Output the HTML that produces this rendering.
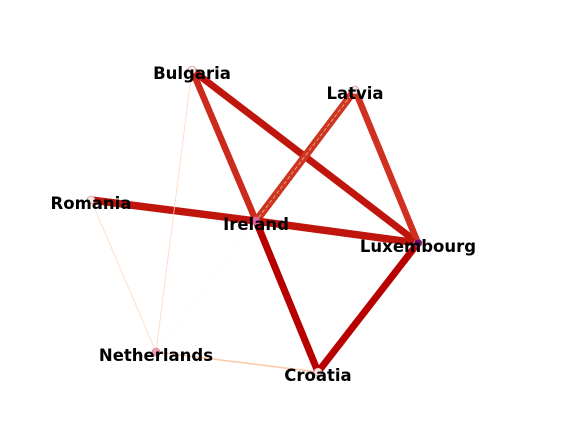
<!DOCTYPE html>
<html><head><meta charset="utf-8"><style>body{margin:0;background:#fff}svg{display:block}</style></head>
<body>
<svg id="chart" width="577" height="441" viewBox="0 0 577 441" xmlns="http://www.w3.org/2000/svg">
<g id="edges"></g>
<g id="nodes"></g>
<g id="labels"></g>
</svg>
<script>
const nodeNames = ["Bulgaria","Latvia","Romania","Ireland","Luxembourg","Netherlands","Croatia"];
const nodeX = [192,355,91,256,418,156,318];
const nodeY = [70,90,200,221,243,352,372];
const nodeFill = ["#fbeaea","#f5e0e0","#f8e8e8","#e060a0","#6a0a70","#f0a0b0","#f8e0e0"];
const edgeFrom = [0,0,1,1,2,3,3,6,0,2,5,5];
const edgeTo   = [3,4,3,4,3,4,6,4,5,5,6,3];
const edgeWidth= [6.5,7,7.5,6.5,7.5,7.5,7,7,0.8,0.8,1.5,0.5];
const edgeColor= ["#cc2a1c","#c0150c","#cc3520","#d03020","#c0150c","#c0150c","#b80000","#b80000","#fdd8c0","#fdd8c0","#fcc8a8","#fde8d0"];
const ns="http://www.w3.org/2000/svg";
const E=document.getElementById('edges'),N=document.getElementById('nodes'),L=document.getElementById('labels');
edgeFrom.forEach((f,i)=>{
  const t=edgeTo[i];
  const l=document.createElementNS(ns,'line');
  
  
  l.setAttribute('x1',nodeX[f]);l.setAttribute('y1',nodeY[f]);
  l.setAttribute('x2',nodeX[t]);l.setAttribute('y2',nodeY[t]);
  l.setAttribute('stroke',edgeColor[i]);l.setAttribute('stroke-width',edgeWidth[i]);
  if(edgeWidth[i]<0.6) l.setAttribute('stroke-dasharray','1,2');
  E.appendChild(l);
  if(f===1&&t===3){
    const d=document.createElementNS(ns,'line');
    
    
    d.setAttribute('x1',nodeX[f]);d.setAttribute('y1',nodeY[f]);
    d.setAttribute('x2',nodeX[t]);d.setAttribute('y2',nodeY[t]);
    d.setAttribute('stroke','#f4b0a0');d.setAttribute('stroke-width',0.8);
    d.setAttribute('stroke-dasharray','4,2');
    E.appendChild(d);
  }
});
nodeNames.forEach((n,i)=>{
  const c=document.createElementNS(ns,'circle');
  
  
  c.setAttribute('cx',nodeX[i]);c.setAttribute('cy',nodeY[i]);c.setAttribute('r',4);
  c.setAttribute('fill',nodeFill[i]);c.setAttribute('stroke','#c08080');c.setAttribute('stroke-width',0.6);
  N.appendChild(c);
  const t=document.createElementNS(ns,'text');
  
  
  t.setAttribute('x',nodeX[i]);t.setAttribute('y',nodeY[i]+9);
  t.setAttribute('text-anchor','middle');
  t.setAttribute('font-family','DejaVu Sans, Liberation Sans, sans-serif');
  t.setAttribute('font-weight','bold');t.setAttribute('font-size','16.5');
  t.textContent=n;
  L.appendChild(t);
});
</script>
</body></html>
